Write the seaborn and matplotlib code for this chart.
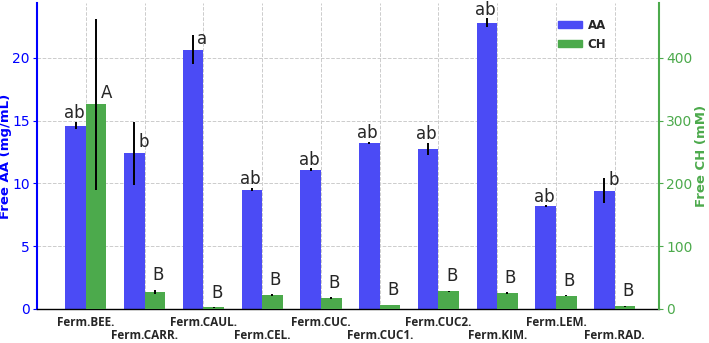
import pandas as pd
import seaborn as sns
import matplotlib.pyplot as plt
from matplotlib.patches import Patch

# ---------------------------------------
# 1. Data
# ---------------------------------------
samples = ["Ferm.BEE.", "Ferm.CARR.", "Ferm.CAUL.", "Ferm.CEL.", "Ferm.CUC.",
           "Ferm.CUC1.", "Ferm.CUC2.", "Ferm.KIM.", "Ferm.LEM.", "Ferm.RAD."]
aa_mean = [14.6, 12.4, 20.65, 9.5, 11.1, 13.2, 12.75, 22.8, 8.2, 9.4]
aa_sd = [0.3, 2.5, 1.15, 0.15, 0.1, 0.1, 0.5, 0.35, 0.05, 1.0]
ch_mean = [326, 27, 2, 22, 17, 6, 28, 25, 21, 4]
ch_sd = [136, 3, 0.5, 1, 1, 0.5, 1, 1, 1, 0.5]
aa_letters = ["ab", "b", "a", "ab", "ab", "ab", "ab", "ab", "ab", "b"]
ch_letters = ["A", "B", "B", "B", "B", "B", "B", "B", "B", "B"]

blue = "#4B4BF5"
green = "#4CAA4C"

df = pd.DataFrame({
    "sample": samples * 2,
    "series": ["AA"] * len(samples) + ["CH"] * len(samples),
    "aa": aa_mean + [float("nan")] * len(samples),
    "ch": [float("nan")] * len(samples) + ch_mean,
})

# ---------------------------------------
# 2. Theme
# ---------------------------------------
sns.set_theme(style="white")
plt.rcParams["font.family"] = ["DejaVu Sans"]

fig, ax1 = plt.subplots(figsize=(7.09, 3.43), dpi=100)
ax2 = ax1.twinx()

pal = {"AA": blue, "CH": green}
sns.barplot(data=df, x="sample", y="aa", hue="series", hue_order=["AA", "CH"],
            palette=pal, width=0.7, gap=0, errorbar=None, saturation=1,
            linewidth=0, legend=False, ax=ax1)
sns.barplot(data=df, x="sample", y="ch", hue="series", hue_order=["AA", "CH"],
            palette=pal, width=0.7, gap=0, errorbar=None, saturation=1,
            linewidth=0, legend=False, ax=ax2)

x = range(len(samples))
off = 0.175

# error bars + significance letters
for i in x:
    ax1.errorbar(i - off, aa_mean[i], yerr=aa_sd[i], color="black", lw=1.4,
                 capsize=0, zorder=5)
    ax2.errorbar(i + off, ch_mean[i], yerr=ch_sd[i], color="black", lw=1.4,
                 capsize=0, zorder=5)
    if len(aa_letters[i]) > 1:
        ax1.text(i - off - 0.03, aa_mean[i] + aa_sd[i] + 0.3, aa_letters[i],
                 ha="center", va="baseline", fontsize=12)
    else:
        ax1.text(i - off + 0.16, aa_mean[i] + 0.5, aa_letters[i],
                 ha="center", va="baseline", fontsize=12)
    if i == 0:
        ax2.text(i + off + 0.17, ch_mean[i] + 10, ch_letters[i],
                 ha="center", va="baseline", fontsize=12)
    else:
        ax2.text(i + off + 0.05, ch_mean[i] + ch_sd[i] + 15, ch_letters[i],
                 ha="center", va="baseline", fontsize=12)

# ---------------------------------------
# 3. Axes styling
# ---------------------------------------
ax1.set_xlim(-0.835, 9.76)
ax1.set_ylim(0, 24.35)
ax2.set_ylim(0, 487)
ax1.set_yticks([0, 5, 10, 15, 20])
ax2.set_yticks([0, 100, 200, 300, 400])

ax1.set_xticks(list(x))
ax1.set_xticklabels(samples, fontsize=8.5, fontweight="bold",
                    family=["Open Sans", "DejaVu Sans"])
ax1.tick_params(axis="x", length=0, pad=5)
# stagger the category labels on two rows
for i, tick in enumerate(ax1.xaxis.get_major_ticks()):
    if i % 2 == 1:
        tick.set_pad(14.5)
ax1.set_xlabel("")

ax1.set_ylabel("Free AA (mg/mL)", color="blue", fontsize=9.5,
               fontweight="bold")
ax2.set_ylabel("Free CH (mM)", color=green, fontsize=9.5,
               fontweight="bold")
ax1.yaxis.set_label_coords(-0.04, 0.5)
ax2.yaxis.set_label_coords(1.058, 0.5)
ax1.tick_params(axis="y", colors="blue", labelsize=10, length=3, width=0.8,
                left=True, pad=2)
ax2.tick_params(axis="y", colors=green, labelsize=10, length=3, width=0.8,
                right=True, pad=2)

for a in (ax1, ax2):
    a.spines["top"].set_visible(False)
ax1.spines["right"].set_visible(False)
ax1.spines["left"].set_color("blue")
ax1.spines["left"].set_linewidth(1.5)
ax2.spines["right"].set_color(green)
ax2.spines["right"].set_linewidth(1.5)
ax2.spines["left"].set_visible(False)
ax2.spines["bottom"].set_visible(False)
ax1.spines["bottom"].set_color("black")
ax1.spines["bottom"].set_linewidth(1.0)

ax1.grid(True, ls="--", color="#cccccc", lw=0.7)
ax1.set_axisbelow(True)
ax2.grid(False)

handles = [Patch(color=blue, label="AA"), Patch(color=green, label="CH")]
ax2.legend(handles=handles, loc="upper left", bbox_to_anchor=(0.82, 0.985),
           frameon=False, prop={"weight": "bold", "size": 8.5},
           handlelength=2.0, handleheight=0.5, labelspacing=0.5,
           handletextpad=0.5)

plt.subplots_adjust(left=0.052, right=0.93, top=0.99, bottom=0.1)
plt.savefig("out.png", dpi=100)
